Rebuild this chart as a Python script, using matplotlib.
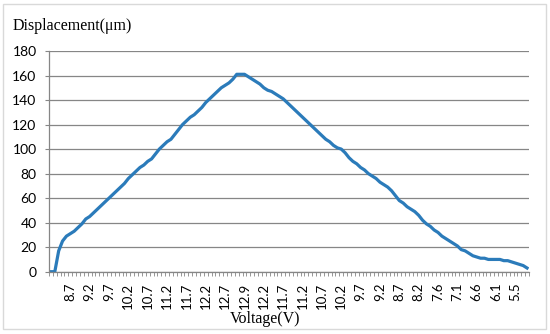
import matplotlib.pyplot as plt
import matplotlib.patches as patches
import numpy as np

# displacement (um), one value per measured voltage step
displacement = [0, 0, 17, 25, 29, 31, 33, 36, 39, 43,
                45, 48, 51, 54, 57, 60, 63, 66, 69, 72,
                76, 79, 82, 85, 87, 90, 92, 96, 100, 103,
                106, 108, 112, 116, 120, 123, 126, 128, 131, 134,
                138, 141, 144, 147, 150, 152, 154, 157, 161, 161,
                161, 159, 157, 155, 153, 150, 148, 147, 145, 143,
                141, 138, 135, 132, 129, 126, 123, 120, 117, 114,
                111, 108, 106, 103, 101, 100, 97, 93, 90, 88,
                85, 83, 80, 78, 76, 73, 71, 69, 66, 62,
                58, 56, 53, 51, 49, 46, 42, 39, 37, 34,
                32, 29, 27, 25, 23, 21, 18, 17, 15, 13,
                12, 11, 11, 10, 10, 10, 10, 9, 9, 8,
                7, 6, 5, 3]
# only every 5th category label is shown (starting at index 5)
volt_labels = ["8.7", "9.2", "9.7", "10.2", "10.7", "11.2", "11.7", "12.2",
               "12.7", "12.9", "12.2", "11.7", "11.2", "10.7", "10.2", "9.7",
               "9.2", "8.7", "8.2", "7.6", "7.1", "6.6", "6.1", "5.5"]
y_ticks = [0, 20, 40, 60, 80, 100, 120, 140, 160, 180]

W, H = 550, 334
fig = plt.figure(figsize=(W / 100, H / 100), dpi=100)
ax = fig.add_axes([49 / W, 1 - 271.7 / H, 480 / W, (271.7 - 51) / H])

n = len(displacement)
x = np.arange(n)
ax.plot(x, displacement, color="#2b7bba", linewidth=2.3, solid_joinstyle="round")

ax.set_xlim(-0.5, n - 0.5)
ax.set_ylim(0, 180)

gray = "#868686"
ax.set_yticks(y_ticks)
ax.yaxis.grid(True, color=gray, linewidth=0.9)
ax.set_axisbelow(True)
ax.tick_params(axis="y", length=3, width=0.8, color=gray, pad=6, labelsize=10)

label_pos = np.arange(5, 5 + 5 * len(volt_labels), 5)
ax.set_xticks(label_pos)
ax.set_xticklabels(volt_labels, rotation=90)
ax.tick_params(axis="x", length=0, pad=8, labelsize=9.5)
ax.set_xticks(np.arange(-0.5, n, 1), minor=True)
ax.tick_params(axis="x", which="minor", length=3, width=0.6, color=gray)

for lab in ax.get_yticklabels() + ax.get_xticklabels():
    lab.set_fontfamily("Lato")

for s in ["top", "right"]:
    ax.spines[s].set_visible(False)
for s in ["left", "bottom"]:
    ax.spines[s].set_color(gray)
    ax.spines[s].set_linewidth(0.9)

fig.text(13 / W, 1 - 26 / H, "Displacement(\u03bcm)", family="Liberation Serif",
         fontsize=11.5, va="center", ha="left")
fig.text(265 / W, 1 - 319 / H, "Voltage(V)", family="Liberation Serif",
         fontsize=11.5, va="center", ha="center")

# chart frame
fig.patches.append(patches.Rectangle((3 / W, 1 - 329 / H), 543 / W, 325 / H,
                                     transform=fig.transFigure, fill=False,
                                     edgecolor="#d9d9d9", linewidth=1))

fig.savefig("out.png", dpi=100)
